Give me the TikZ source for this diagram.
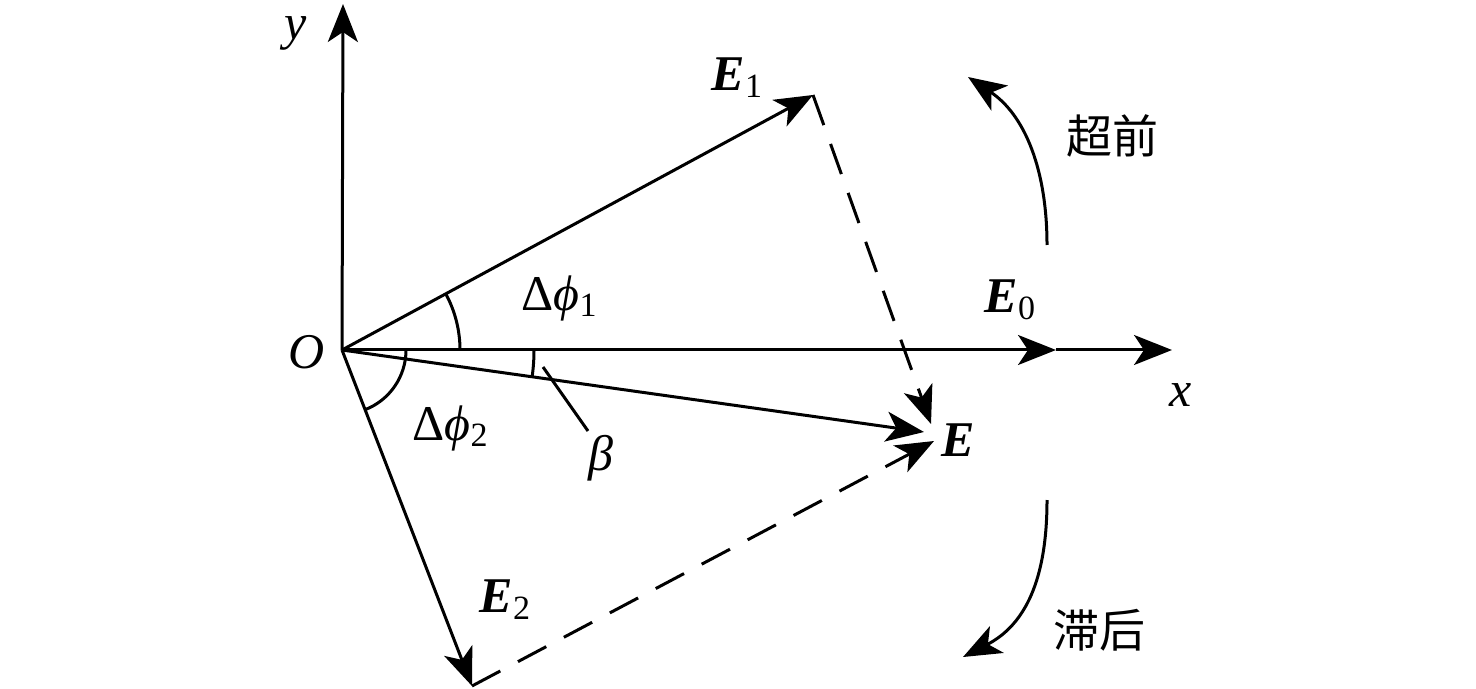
\documentclass[tikz,border=0pt]{standalone}
\usepackage{fontspec}
\setmainfont{Liberation Serif}
\newfontfamily\cjk{Noto Sans CJK SC}
\usetikzlibrary{arrows.meta}
\newcommand\sbs[1]{\raisebox{-0.3ex}{\fontsize{17}{17}\selectfont #1}}
\newcommand\bvec[1]{\textbf{\textit{#1}}}
\tikzset{
  ln/.style={line width=1.5pt},
  arr/.style={ln,-{Stealth[length=19pt,width=15pt,inset=5pt]}},
  dsh/.style={ln,dash pattern=on 16pt off 10pt},
  lbl/.style={inner sep=0pt,font=\fontsize{25}{28}\selectfont},
  cn/.style={inner sep=0pt,font=\cjk\fontsize{23}{26}\selectfont},
}
\begin{document}
\begin{tikzpicture}[x=0.5pt,y=-0.5pt]
\useasboundingbox (0,0) rectangle (1476,689);
\coordinate (O) at (342,350);
\coordinate (Y) at (343,4);
\coordinate (X) at (1172,350);
\coordinate (E0) at (1056,350);
\coordinate (E1) at (813,95);
\coordinate (E) at (924,432);
\coordinate (E2) at (472,686);
\coordinate (Ea) at (931,424);
\coordinate (Eb) at (934,441);
% axes
\draw[arr] (O) -- (Y);
\draw[arr] (O) -- (E0);
\draw[arr] (E0) -- (X);
% vectors
\draw[arr] (O) -- (E1);
\draw[arr] (O) -- (E);
\draw[arr] (O) -- (E2);
\draw[dsh,-{Stealth[length=19pt,width=15pt,inset=5pt]}] (E1) -- (Ea);
\draw[dsh,-{Stealth[length=19pt,width=15pt,inset=5pt]}] (E2) -- (Eb);
% angle arcs
\draw[ln] ([shift={(0:118)}]O) arc[start angle=0,end angle=-28.4,radius=118];
\draw[ln] ([shift={(0:64)}]O) arc[start angle=0,end angle=68.8,radius=64];
\draw[ln] ([shift={(0:192)}]O) arc[start angle=0,end angle=8.0,radius=192];
\coordinate (b1) at (543,367);
\coordinate (b2) at (588,431);
\draw[ln] (b1) -- (b2);
% rotation arrows
\coordinate (u1) at (1047,245);
\coordinate (u2) at (968,77);
\draw[arr] (u1) .. controls (1047,170) and (1025,115) .. (u2);
\coordinate (d1) at (1047,500);
\coordinate (d2) at (963,657);
\draw[arr] (d1) .. controls (1047,580) and (1025,625) .. (d2);
% labels
\node[lbl] (ly) at (296,33) {\textit{y}};
\node[lbl] (lO) at (307,352) {\textit{O}};
\node[lbl] (lx) at (1181,395) {\textit{x}};
\node[lbl] (lE1) at (737,78) {\bvec{E}\sbs{1}};
\node[lbl] (lE0) at (1010,300) {\bvec{E}\sbs{0}};
\node[lbl] (lE) at (958,440) {\bvec{E}};
\node[lbl] (lE2) at (505,600) {\bvec{E}\sbs{2}};
\node[lbl] (ld1) at (559,298) {Δ\textit{ϕ}\sbs{1}};
\node[lbl] (ld2) at (450,428) {Δ\textit{ϕ}\sbs{2}};
\node[lbl] (lb) at (601,458) {\textit{β}};
\node[cn] (lead) at (1112,136) {超前};
\node[cn] (lag) at (1099,630) {滞后};
\end{tikzpicture}
\end{document}
